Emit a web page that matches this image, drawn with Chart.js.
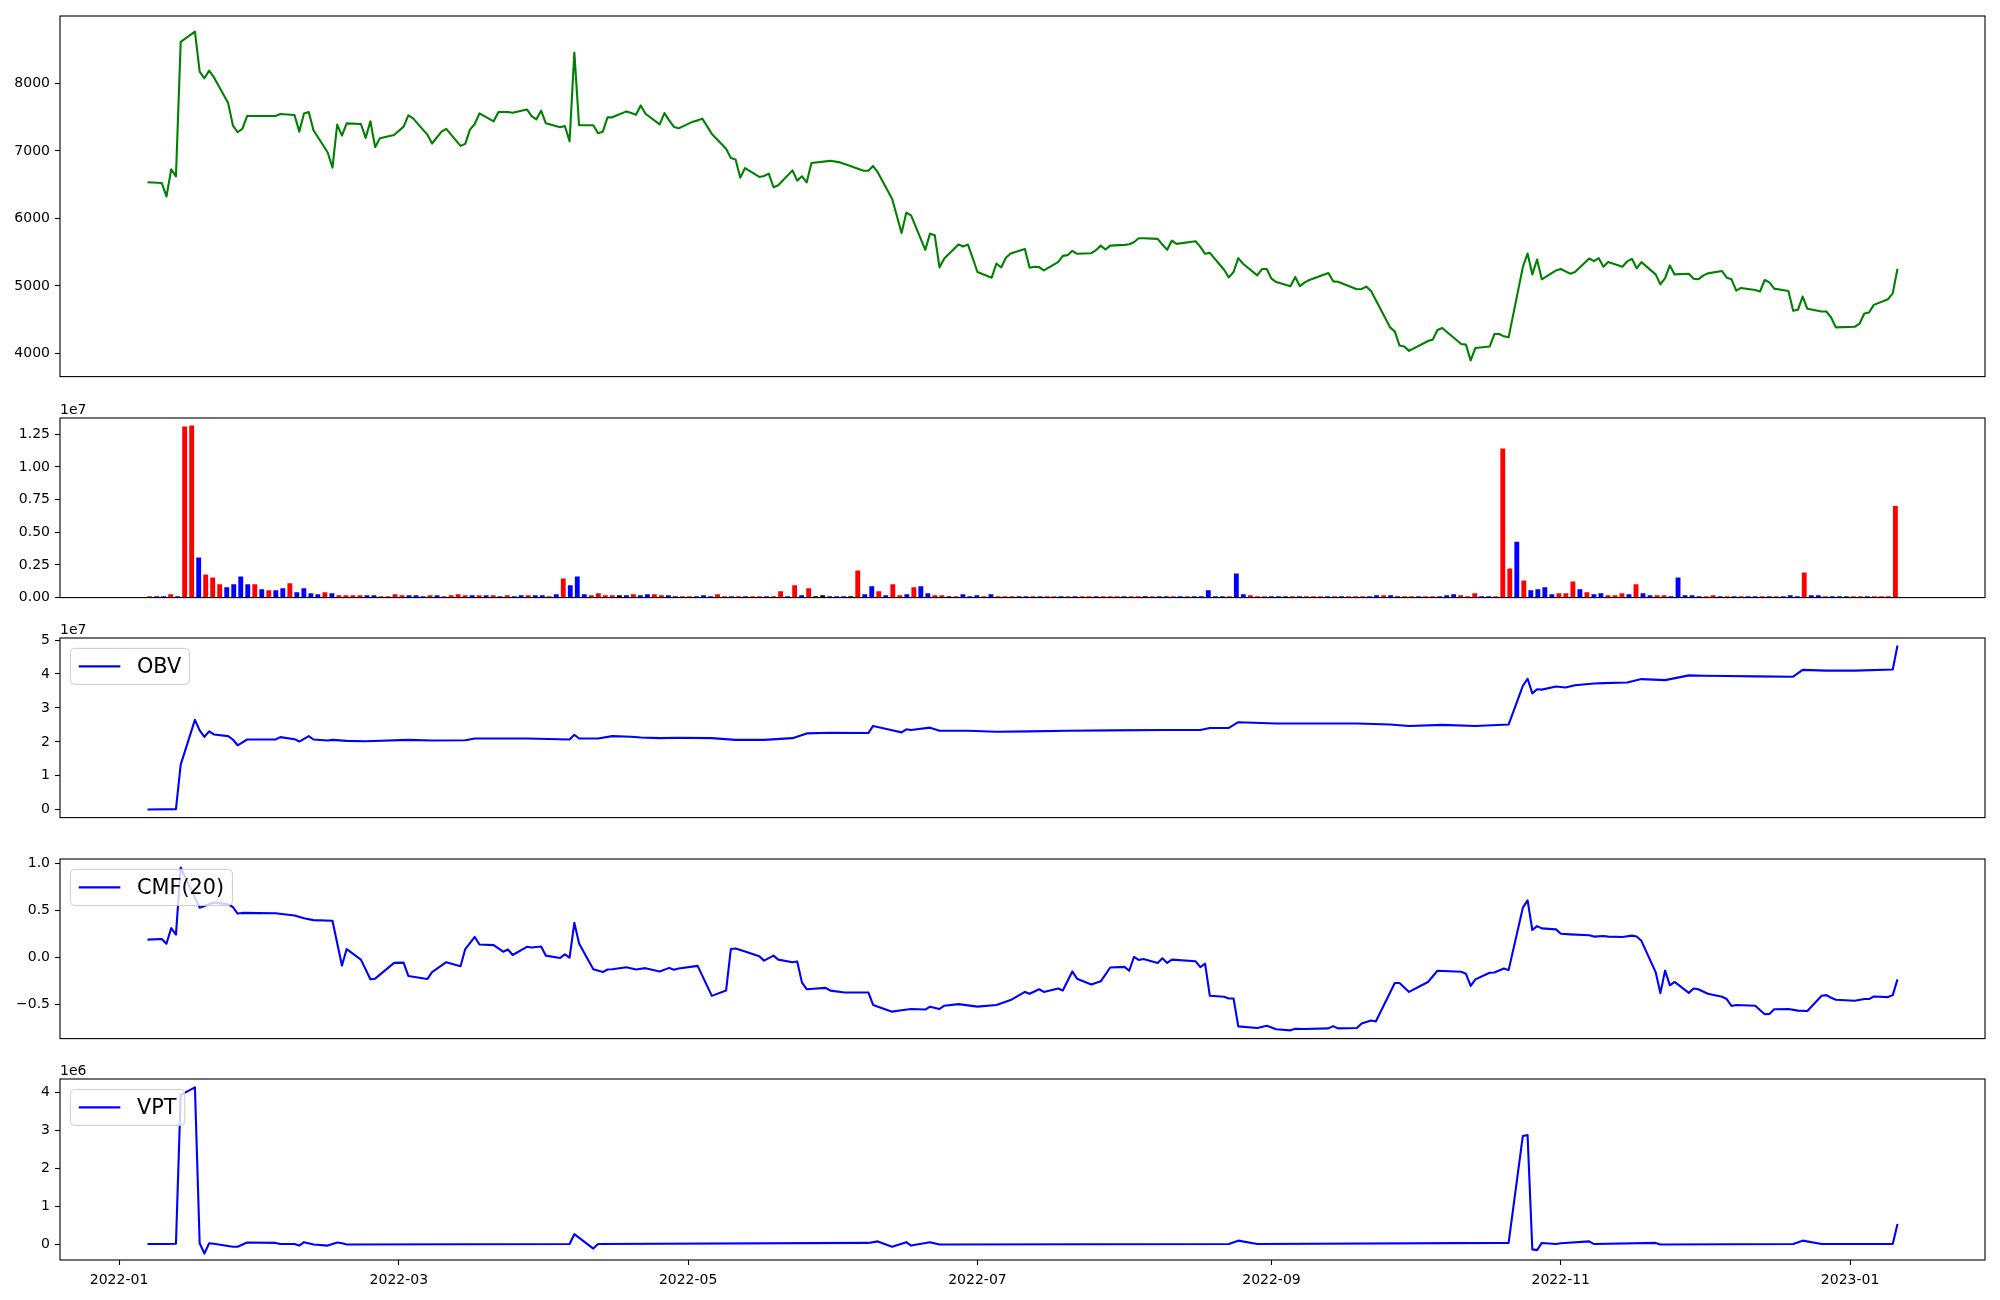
<!DOCTYPE html>
<html>
<head>
<meta charset="utf-8">
<title>Price / Volume / OBV / CMF / VPT</title>
<script src="https://cdn.jsdelivr.net/npm/chart.js@4.4.0/dist/chart.umd.min.js"></script>
<style>
  html, body { margin: 0; padding: 0; background: #fff; }
  #fig { position: relative; width: 2000px; height: 1300px; overflow: hidden; }
  #fig canvas { position: absolute; left: 0; }
</style>
</head>
<body>
<div id="fig"></div>
<script>
// ---- data ----

// close price (only the turning points of the line)
const priceDates = [
  '2022-01-07','2022-01-10','2022-01-11','2022-01-12','2022-01-13','2022-01-14','2022-01-17','2022-01-18','2022-01-19','2022-01-20','2022-01-21','2022-01-24','2022-01-25','2022-01-26','2022-01-27','2022-01-28',
  '2022-02-03','2022-02-04','2022-02-07','2022-02-08','2022-02-09','2022-02-10','2022-02-11','2022-02-14','2022-02-15','2022-02-16','2022-02-17','2022-02-18','2022-02-21','2022-02-22','2022-02-23','2022-02-24','2022-02-25','2022-02-28',
  '2022-03-02','2022-03-03','2022-03-04','2022-03-07','2022-03-08','2022-03-10','2022-03-11','2022-03-14','2022-03-15','2022-03-16','2022-03-17','2022-03-18','2022-03-21','2022-03-22','2022-03-23','2022-03-24','2022-03-25','2022-03-28','2022-03-29','2022-03-30','2022-03-31',
  '2022-04-01','2022-04-04','2022-04-05','2022-04-06','2022-04-07','2022-04-08','2022-04-11','2022-04-12','2022-04-13','2022-04-14','2022-04-15','2022-04-18','2022-04-19','2022-04-20','2022-04-21','2022-04-22','2022-04-25','2022-04-26','2022-04-27','2022-04-28','2022-04-29',
  '2022-05-02','2022-05-03','2022-05-04','2022-05-06','2022-05-09','2022-05-10','2022-05-11','2022-05-12','2022-05-13','2022-05-16','2022-05-17','2022-05-18','2022-05-19','2022-05-20','2022-05-23','2022-05-24','2022-05-25','2022-05-26','2022-05-27','2022-05-30','2022-05-31',
  '2022-06-02','2022-06-03','2022-06-07','2022-06-08','2022-06-09','2022-06-10','2022-06-13','2022-06-14','2022-06-15','2022-06-16','2022-06-17','2022-06-20','2022-06-21','2022-06-22','2022-06-23','2022-06-24','2022-06-27','2022-06-28','2022-06-29','2022-06-30',
  '2022-07-01','2022-07-04','2022-07-05','2022-07-06','2022-07-07','2022-07-08','2022-07-11','2022-07-12','2022-07-13','2022-07-14','2022-07-15','2022-07-18','2022-07-19','2022-07-20','2022-07-21','2022-07-22','2022-07-25','2022-07-26','2022-07-27','2022-07-28','2022-07-29',
  '2022-08-01','2022-08-02','2022-08-03','2022-08-04','2022-08-05','2022-08-08','2022-08-09','2022-08-10','2022-08-11','2022-08-12','2022-08-16','2022-08-17','2022-08-18','2022-08-19','2022-08-22','2022-08-23','2022-08-24','2022-08-25','2022-08-26','2022-08-29','2022-08-30','2022-08-31',
  '2022-09-01','2022-09-02','2022-09-05','2022-09-06','2022-09-07','2022-09-08','2022-09-09','2022-09-13','2022-09-14','2022-09-15','2022-09-19','2022-09-20','2022-09-21','2022-09-22','2022-09-26','2022-09-27','2022-09-28','2022-09-29','2022-09-30',
  '2022-10-04','2022-10-05','2022-10-06','2022-10-07','2022-10-11','2022-10-12','2022-10-13','2022-10-14','2022-10-17','2022-10-18','2022-10-19','2022-10-20','2022-10-21','2022-10-24','2022-10-25','2022-10-26','2022-10-27','2022-10-28','2022-10-31',
  '2022-11-01','2022-11-02','2022-11-03','2022-11-04','2022-11-07','2022-11-08','2022-11-09','2022-11-10','2022-11-11','2022-11-14','2022-11-15','2022-11-16','2022-11-17','2022-11-18','2022-11-21','2022-11-22','2022-11-23','2022-11-24','2022-11-25','2022-11-28','2022-11-29','2022-11-30',
  '2022-12-01','2022-12-02','2022-12-05','2022-12-06','2022-12-07','2022-12-08','2022-12-09','2022-12-12','2022-12-13','2022-12-14','2022-12-15','2022-12-16','2022-12-19','2022-12-20','2022-12-21','2022-12-22','2022-12-23','2022-12-26','2022-12-27','2022-12-28','2022-12-29',
  '2023-01-02','2023-01-03','2023-01-04','2023-01-05','2023-01-06','2023-01-09','2023-01-10','2023-01-11'
];
const priceClose = [
  6535,6525,6325,6727,6624,8617,8769,8175,8077,8190,8092,7709,7380,7277,7326,7517,
  7517,7547,7532,7286,7556,7576,7306,6977,6751,7390,7227,7409,7399,7193,7439,7056,7188,7237,
  7360,7527,7483,7242,7110,7286,7326,7075,7105,7316,7399,7556,7439,7576,7576,7576,7566,7615,7517,7468,7596,
  7409,7350,7370,7144,8460,7380,7380,7262,7286,7498,7498,7586,7561,7537,7674,7551,7394,7561,7453,7355,7335,
  7434,7453,7478,7252,7031,6894,6874,6604,6746,6614,6628,6663,6462,6491,6712,6560,6624,6535,6820,6845,6854,
  6830,6805,6707,6707,6776,6682,6290,6039,5784,6084,6044,5534,5774,5750,5273,5406,5612,5583,5612,5410,
  5205,5121,5332,5273,5416,5480,5548,5268,5283,5278,5229,5352,5445,5455,5519,5475,5484,5529,5597,5538,5597,
  5607,5617,5647,5705,5705,5696,5612,5534,5671,5622,5661,5578,5475,5489,5239,5126,5205,5411,5327,5155,5249,5249,
  5106,5057,4994,5131,4994,5052,5087,5190,5067,5062,4949,4954,4989,4925,4385,4326,4115,4100,4036,
  4183,4203,4345,4375,4139,4129,3894,4080,4100,4286,4286,4252,4237,5278,5480,5170,5391,5097,5229,
  5249,5214,5180,5205,5406,5367,5411,5283,5352,5283,5362,5401,5259,5352,5170,5023,5116,5303,5170,5180,5106,5097,
  5151,5185,5219,5121,5097,4930,4969,4939,4915,5087,5052,4959,4925,4630,4645,4841,4660,4620,4620,4532,4385,
  4394,4439,4591,4606,4718,4802,4890,5254
];

// daily volume, one bar per trading day (drawn by position)
const volume = [
  76000,76000,76000,228000,76000,13070000,13146000,3040000,1748000,1520000,
  988000,760000,988000,1596000,988000,988000,608000,532000,532000,684000,
  1064000,380000,684000,304000,228000,380000,304000,152000,152000,152000,
  152000,152000,152000,76000,76000,228000,152000,152000,152000,76000,
  152000,152000,76000,152000,228000,152000,152000,152000,152000,152000,
  76000,152000,76000,152000,152000,152000,152000,76000,228000,1444000,
  912000,1596000,228000,152000,304000,152000,152000,152000,152000,228000,
  152000,228000,228000,152000,152000,76000,76000,76000,76000,152000,
  76000,228000,76000,76000,76000,76000,76000,76000,76000,76000,
  456000,76000,912000,152000,684000,76000,152000,76000,76000,76000,
  76000,2052000,228000,836000,456000,152000,988000,152000,228000,760000,
  836000,304000,152000,152000,76000,76000,228000,76000,152000,76000,
  228000,76000,76000,76000,76000,76000,76000,76000,76000,76000,
  76000,76000,76000,76000,76000,76000,76000,76000,76000,76000,
  76000,76000,76000,76000,76000,76000,76000,76000,76000,76000,
  76000,532000,76000,76000,76000,1824000,228000,152000,76000,76000,
  76000,76000,76000,76000,76000,76000,76000,76000,76000,76000,
  76000,76000,76000,76000,76000,152000,152000,152000,76000,76000,
  76000,76000,76000,76000,76000,152000,228000,152000,76000,304000,
  76000,76000,76000,11399000,2204000,4255000,1292000,532000,608000,760000,
  228000,304000,304000,1216000,608000,380000,228000,304000,152000,152000,
  304000,228000,988000,304000,152000,152000,152000,76000,1520000,152000,
  152000,76000,76000,152000,76000,76000,76000,76000,76000,76000,
  76000,76000,76000,76000,152000,76000,1900000,152000,152000,76000,
  76000,76000,76000,76000,76000,76000,76000,76000,76000,6991000
];
// bar colour per day: r = up candle, b = down candle, k = unchanged
const volumeColor = (
  'rbbrbrrbrr rbbbbrbrbb rbbbbrbrrr rbbrrrrbbb rbrrrrbrbr ' +
  'brbbrbbrbr bbbrrrrkbr bbrrbbrrbb brrbrbrrbr rbrbrkkbbb ' +
  'krbbrbrrbr bbrrbrbbbr brrrbbrbrr brbrrbrrrb rrkrbbrbrb ' +
  'bbbbrbbrrr bbbrbrrrbr brrrbbrbbr rbrrbbbrrr bbrrrbrbbb ' +
  'brrrbrbbrr rbrbbrrbbb bbrrbrbrbb rbrbbbrbbr bbbrrbrrrr'
).replace(/\s/g, '').split('');

// On-Balance Volume
const obvDates = [
  '2022-01-07','2022-01-13','2022-01-14','2022-01-17','2022-01-18','2022-01-19','2022-01-20','2022-01-21','2022-01-24','2022-01-25','2022-01-26','2022-01-28',
  '2022-02-03','2022-02-04','2022-02-07','2022-02-08','2022-02-10','2022-02-11','2022-02-14','2022-02-15','2022-02-18','2022-02-22',
  '2022-03-03','2022-03-08','2022-03-15','2022-03-17','2022-03-28',
  '2022-04-06','2022-04-07','2022-04-08','2022-04-12','2022-04-15','2022-04-19','2022-04-21','2022-04-25','2022-04-29',
  '2022-05-06','2022-05-11','2022-05-17','2022-05-23','2022-05-26','2022-05-31',
  '2022-06-08','2022-06-09','2022-06-13','2022-06-15','2022-06-16','2022-06-17','2022-06-21','2022-06-23','2022-06-29',
  '2022-07-05','2022-07-12','2022-07-20','2022-07-29',
  '2022-08-09','2022-08-17','2022-08-19','2022-08-23','2022-08-25',
  '2022-09-02','2022-09-19','2022-09-26','2022-09-30',
  '2022-10-07','2022-10-14','2022-10-21','2022-10-24','2022-10-25','2022-10-26','2022-10-27','2022-10-28','2022-10-31',
  '2022-11-02','2022-11-04','2022-11-08','2022-11-10','2022-11-15','2022-11-18','2022-11-23','2022-11-28',
  '2022-12-01','2022-12-06','2022-12-12','2022-12-20','2022-12-22','2022-12-27',
  '2023-01-02','2023-01-10','2023-01-11'
];
const obvValues = [
  0.01e7,0.02e7,1.33e7,2.65e7,2.34e7,2.15e7,2.31e7,2.22e7,2.17e7,2.07e7,1.90e7,2.07e7,
  2.07e7,2.14e7,2.08e7,2.01e7,2.17e7,2.07e7,2.04e7,2.06e7,2.03e7,2.02e7,
  2.06e7,2.04e7,2.05e7,2.10e7,2.10e7,
  2.07e7,2.21e7,2.10e7,2.10e7,2.17e7,2.15e7,2.13e7,2.11e7,2.12e7,
  2.11e7,2.06e7,2.06e7,2.11e7,2.25e7,2.27e7,
  2.26e7,2.47e7,2.34e7,2.28e7,2.37e7,2.35e7,2.42e7,2.33e7,2.33e7,
  2.30e7,2.31e7,2.33e7,2.34e7,
  2.35e7,2.35e7,2.41e7,2.41e7,2.58e7,
  2.54e7,2.54e7,2.51e7,2.47e7,
  2.50e7,2.47e7,2.51e7,3.65e7,3.86e7,3.43e7,3.55e7,3.54e7,3.63e7,
  3.60e7,3.67e7,3.72e7,3.73e7,3.75e7,3.85e7,3.82e7,3.96e7,
  3.95e7,3.94e7,3.93e7,3.92e7,4.12e7,4.10e7,
  4.10e7,4.13e7,4.84e7
];

// Chaikin Money Flow (20)
const cmfDates = [
  '2022-01-07','2022-01-10','2022-01-11','2022-01-12','2022-01-13','2022-01-14','2022-01-18','2022-01-21','2022-01-24','2022-01-25','2022-01-26','2022-01-27',
  '2022-02-03','2022-02-07','2022-02-09','2022-02-11','2022-02-15','2022-02-17','2022-02-18','2022-02-21','2022-02-23','2022-02-24','2022-02-28',
  '2022-03-02','2022-03-03','2022-03-07','2022-03-08','2022-03-11','2022-03-14','2022-03-15','2022-03-17','2022-03-18','2022-03-21','2022-03-23','2022-03-24','2022-03-25','2022-03-28','2022-03-29','2022-03-31',
  '2022-04-01','2022-04-04','2022-04-05','2022-04-06','2022-04-07','2022-04-08','2022-04-11','2022-04-13','2022-04-14','2022-04-15','2022-04-18','2022-04-20','2022-04-22','2022-04-25','2022-04-27','2022-04-28','2022-04-29',
  '2022-05-03','2022-05-06','2022-05-09','2022-05-10','2022-05-11','2022-05-13','2022-05-16','2022-05-17','2022-05-19','2022-05-20','2022-05-23','2022-05-24','2022-05-25','2022-05-26','2022-05-30','2022-05-31',
  '2022-06-03','2022-06-08','2022-06-09','2022-06-13','2022-06-15','2022-06-17','2022-06-20','2022-06-21','2022-06-23','2022-06-24','2022-06-27',
  '2022-07-01','2022-07-05','2022-07-08','2022-07-11','2022-07-12','2022-07-14','2022-07-15','2022-07-18','2022-07-19','2022-07-21','2022-07-22','2022-07-25','2022-07-27','2022-07-29',
  '2022-08-01','2022-08-02','2022-08-03','2022-08-04','2022-08-05','2022-08-08','2022-08-09','2022-08-10','2022-08-11','2022-08-16','2022-08-17','2022-08-18','2022-08-19','2022-08-22','2022-08-23','2022-08-24','2022-08-25','2022-08-29','2022-08-31',
  '2022-09-02','2022-09-05','2022-09-06','2022-09-08','2022-09-13','2022-09-14','2022-09-15','2022-09-19','2022-09-20','2022-09-22','2022-09-23','2022-09-27','2022-09-28','2022-09-30',
  '2022-10-04','2022-10-06','2022-10-11','2022-10-12','2022-10-13','2022-10-14','2022-10-17','2022-10-18','2022-10-20','2022-10-21','2022-10-24','2022-10-25','2022-10-26','2022-10-27','2022-10-28','2022-10-31',
  '2022-11-01','2022-11-03','2022-11-07','2022-11-08','2022-11-10','2022-11-11','2022-11-14','2022-11-16','2022-11-17','2022-11-18','2022-11-21','2022-11-22','2022-11-23','2022-11-24','2022-11-25','2022-11-28','2022-11-29','2022-11-30',
  '2022-12-02','2022-12-05','2022-12-06','2022-12-07','2022-12-08','2022-12-12','2022-12-14','2022-12-15','2022-12-16','2022-12-19','2022-12-21','2022-12-23','2022-12-26','2022-12-27','2022-12-28','2022-12-29',
  '2023-01-02','2023-01-04','2023-01-05','2023-01-06','2023-01-09','2023-01-10','2023-01-11'
];
const cmfValues = [
  0.187,0.194,0.142,0.31,0.24,0.954,0.527,0.583,0.562,0.534,0.464,0.471,
  0.467,0.443,0.415,0.394,0.387,-0.089,0.086,-0.026,-0.236,-0.229,-0.061,
  -0.058,-0.2,-0.233,-0.159,-0.054,-0.096,0.086,0.215,0.135,0.128,0.058,0.082,0.023,0.11,0.103,0.114,
  0.016,-0.009,0.03,-0.005,0.366,0.145,-0.128,-0.159,-0.131,-0.128,-0.107,-0.131,-0.117,-0.152,-0.114,-0.135,-0.121,
  -0.093,-0.412,-0.356,0.086,0.093,0.061,0.009,-0.037,0.016,-0.026,-0.054,-0.047,-0.271,-0.341,-0.327,-0.356,
  -0.376,-0.376,-0.509,-0.58,-0.566,-0.552,-0.558,-0.527,-0.552,-0.517,-0.5,
  -0.527,-0.509,-0.457,-0.37,-0.39,-0.342,-0.37,-0.334,-0.355,-0.152,-0.229,-0.292,-0.257,-0.11,
  -0.103,-0.145,0.002,-0.03,-0.019,-0.061,-0.012,-0.061,-0.026,-0.044,-0.107,-0.068,-0.411,-0.422,-0.44,-0.44,-0.737,-0.754,-0.73,
  -0.768,-0.779,-0.762,-0.765,-0.758,-0.734,-0.758,-0.754,-0.705,-0.674,-0.684,-0.275,-0.275,-0.37,
  -0.264,-0.145,-0.156,-0.177,-0.306,-0.236,-0.166,-0.163,-0.121,-0.138,0.527,0.604,0.289,0.331,0.306,0.296,
  0.25,0.243,0.233,0.219,0.226,0.219,0.215,0.229,0.219,0.174,-0.159,-0.383,-0.142,-0.3,-0.264,-0.38,-0.334,-0.341,
  -0.39,-0.422,-0.446,-0.52,-0.509,-0.517,-0.608,-0.604,-0.555,-0.552,-0.569,-0.573,-0.411,-0.404,-0.432,-0.453,
  -0.464,-0.446,-0.446,-0.418,-0.425,-0.404,-0.236
];

// Volume Price Trend
const vptDates = [
  '2022-01-07','2022-01-11','2022-01-13','2022-01-14','2022-01-17','2022-01-18','2022-01-19','2022-01-20','2022-01-21','2022-01-25','2022-01-26','2022-01-28',
  '2022-02-03','2022-02-04','2022-02-07','2022-02-08','2022-02-09','2022-02-11','2022-02-14','2022-02-16','2022-02-17','2022-02-18',
  '2022-04-06','2022-04-07','2022-04-11','2022-04-12',
  '2022-06-08','2022-06-10','2022-06-13','2022-06-16','2022-06-17','2022-06-21','2022-06-23',
  '2022-08-23','2022-08-25','2022-08-29',
  '2022-10-21','2022-10-24','2022-10-25','2022-10-26','2022-10-27','2022-10-28','2022-10-31',
  '2022-11-01','2022-11-07','2022-11-08','2022-11-21','2022-11-22',
  '2022-12-20','2022-12-22','2022-12-26',
  '2023-01-10','2023-01-11'
];
const vptValues = [
  0,0,0.01e6,3.93e6,4.13e6,0.02e6,-0.25e6,0.02e6,0.01e6,-0.07e6,-0.07e6,0.04e6,
  0.03e6,0,0,-0.04e6,0.05e6,-0.01e6,-0.04e6,0.04e6,0.02e6,-0.01e6,
  0,0.26e6,-0.12e6,0,
  0.03e6,0.07e6,-0.07e6,0.05e6,-0.04e6,0.05e6,-0.01e6,
  0,0.09e6,0,
  0.03e6,2.85e6,2.87e6,-0.14e6,-0.16e6,0.03e6,0,
  0.02e6,0.07e6,0,0.03e6,-0.01e6,
  0,0.09e6,0,
  0,0.53e6
];

// axis ticks
const xTickLabels = ['2022-01','2022-03','2022-05','2022-07','2022-09','2022-11','2023-01'];
const priceTicks  = [4000, 5000, 6000, 7000, 8000];
const volumeTicks = [0, 0.25e7, 0.5e7, 0.75e7, 1.0e7, 1.25e7];
const obvTicks    = [0, 1e7, 2e7, 3e7, 4e7, 5e7];
const cmfTicks    = [-0.5, 0, 0.5, 1.0];
const vptTicks    = [0, 1e6, 2e6, 3e6, 4e6];

// ---- helpers ----
const DAY0 = Date.UTC(2022, 0, 1);
function dayNum(s) {
  const [y, m, d] = s.split('-').map(Number);
  return (Date.UTC(y, m - 1, d) - DAY0) / 86400000;
}
const pts = (dates, vals) => dates.map((d, i) => ({ x: dayNum(d), y: vals[i] }));
const minus = s => s.replace('-', '\u2212');

Chart.defaults.font.family = "'DejaVu Sans', sans-serif";
Chart.defaults.font.size = 14;
Chart.defaults.color = '#000';

// x range as matplotlib autoscale: data span plus 5% each side
const firstDay = dayNum(priceDates[0]);
const lastDay  = dayNum(priceDates[priceDates.length - 1]);
const xPad  = (lastDay - firstDay) * 0.05;
const barHalf = 0.3;
const barSpan = (volume.length - 1) + 2 * barHalf;

const BLUE = '#0000ff';
const GREEN = '#008000';
const barColors = { r: '#ff0000', b: '#0000ff', k: '#000000' };

function drawLegend(ctx, a, label, color) {
  const fs = 20.8;
  ctx.font = fs + "px 'DejaVu Sans'";
  const tw = ctx.measureText(label).width;
  const pad = 0.4 * fs, handle = 2 * fs, gap = 0.8 * fs;
  const x = a.left + 0.5 * fs, y = a.top + 0.5 * fs;
  const w = pad + handle + gap + tw + pad, h = 36;
  ctx.beginPath();
  ctx.roundRect(x, y, w, h, 4);
  ctx.fillStyle = 'rgba(255,255,255,0.8)';
  ctx.fill();
  ctx.strokeStyle = '#cccccc';
  ctx.lineWidth = 1;
  ctx.stroke();
  const cy = y + h / 2;
  ctx.beginPath();
  ctx.moveTo(x + pad, cy);
  ctx.lineTo(x + pad + handle, cy);
  ctx.strokeStyle = color;
  ctx.lineWidth = 2.1;
  ctx.stroke();
  ctx.fillStyle = '#000';
  ctx.textAlign = 'left';
  ctx.textBaseline = 'middle';
  ctx.fillText(label, x + pad + handle + gap, cy + 1);
}

// axes box, offset text ("1e7") and legend
function framePlugin(o) {
  return {
    id: 'frame',
    afterDraw(chart) {
      const { ctx, chartArea: a } = chart;
      ctx.save();
      ctx.strokeStyle = '#000';
      ctx.lineWidth = 1.1;
      ctx.strokeRect(a.left, a.top, a.right - a.left, a.bottom - a.top);
      if (o.offset) {
        ctx.fillStyle = '#000';
        ctx.font = "14px 'DejaVu Sans'";
        ctx.textAlign = 'left';
        ctx.textBaseline = 'alphabetic';
        ctx.fillText(o.offset, a.left, a.top - 4);
      }
      if (o.legend) drawLegend(ctx, a, o.legend, o.color);
      ctx.restore();
    }
  };
}

const tickGrid = {
  drawOnChartArea: false, drawTicks: true, tickLength: 5, tickWidth: 1.1, tickColor: '#000'
};

function yAxis(min, max, ticks, fmt) {
  return {
    min, max,
    afterFit: s => { s.width = 60; },
    afterBuildTicks: s => { s.ticks = ticks.map(v => ({ value: v })); },
    ticks: { callback: fmt, padding: 5, color: '#000' },
    grid: tickGrid,
    border: { display: false }
  };
}

function dateAxis(show) {
  const axis = {
    type: 'linear',
    min: firstDay - xPad, max: lastDay + xPad,
    display: show,
    afterBuildTicks: s => {
      s.ticks = xTickLabels.map(l => ({ value: dayNum(l + '-01') }));
    },
    ticks: {
      callback: (v, i) => xTickLabels[i],
      autoSkip: false, maxRotation: 0, padding: 7, color: '#000'
    },
    grid: tickGrid,
    border: { display: false }
  };
  if (show) axis.afterFit = s => { s.height = 40; };
  return axis;
}

// panel boxes (plot area top / bottom in page pixels)
function makeCanvas(top, bottom, withX) {
  const c = document.createElement('canvas');
  const h = (bottom - top) + 24 + (withX ? 40 : 12);
  c.width = 2000;
  c.height = h;
  c.style.top = (top - 24) + 'px';
  c.style.width = '2000px';
  c.style.height = h + 'px';
  document.getElementById('fig').appendChild(c);
  return c;
}

function baseOptions(withX) {
  return {
    responsive: false,
    animation: false,
    devicePixelRatio: 1,
    layout: { padding: { left: 0, right: 15, top: 24, bottom: withX ? 0 : 12 } },
    plugins: { legend: { display: false }, tooltip: { enabled: false } }
  };
}

function lineDataset(data, color) {
  return {
    data, borderColor: color, borderWidth: 2.1,
    pointRadius: 0, tension: 0, fill: false, borderJoinStyle: 'round'
  };
}

// ── Price ──
new Chart(makeCanvas(16, 378, false), {
  type: 'line',
  data: { datasets: [lineDataset(pts(priceDates, priceClose), GREEN)] },
  options: {
    ...baseOptions(false),
    scales: {
      x: dateAxis(false),
      y: yAxis(3655, 9000, priceTicks, v => String(v))
    }
  },
  plugins: [framePlugin({})]
});

// ── Volume bars ──
new Chart(makeCanvas(418, 599, false), {
  type: 'bar',
  data: {
    datasets: [{
      data: volume.map((v, i) => ({ x: i, y: v })),
      backgroundColor: volumeColor.map(c => barColors[c]),
      borderWidth: 0,
      barThickness: 4.2
    }]
  },
  options: {
    ...baseOptions(false),
    scales: {
      x: {
        type: 'linear', display: false, offset: false,
        min: -barHalf - 0.05 * barSpan,
        max: volume.length - 1 + barHalf + 0.05 * barSpan
      },
      y: yAxis(0, 1.375e7, volumeTicks, v => (v / 1e7).toFixed(2))
    }
  },
  plugins: [framePlugin({ offset: '1e7' })]
});

// ── OBV ──
new Chart(makeCanvas(638, 819, false), {
  type: 'line',
  data: { datasets: [lineDataset(pts(obvDates, obvValues), BLUE)] },
  options: {
    ...baseOptions(false),
    scales: {
      x: dateAxis(false),
      y: yAxis(-0.23e7, 5.06e7, obvTicks, v => String(Math.round(v / 1e7)))
    }
  },
  plugins: [framePlugin({ offset: '1e7', legend: 'OBV', color: BLUE })]
});

// ── CMF(20) ──
new Chart(makeCanvas(859, 1040, false), {
  type: 'line',
  data: { datasets: [lineDataset(pts(cmfDates, cmfValues), BLUE)] },
  options: {
    ...baseOptions(false),
    scales: {
      x: dateAxis(false),
      y: yAxis(-0.867, 1.045, cmfTicks, v => minus(v.toFixed(1)))
    }
  },
  plugins: [framePlugin({ legend: 'CMF(20)', color: BLUE })]
});

// ── VPT ──
new Chart(makeCanvas(1079, 1260, true), {
  type: 'line',
  data: { datasets: [lineDataset(pts(vptDates, vptValues), BLUE)] },
  options: {
    ...baseOptions(true),
    scales: {
      x: dateAxis(true),
      y: yAxis(-0.42e6, 4.35e6, vptTicks, v => String(Math.round(v / 1e6)))
    }
  },
  plugins: [framePlugin({ offset: '1e6', legend: 'VPT', color: BLUE })]
});
</script>
</body>
</html>
